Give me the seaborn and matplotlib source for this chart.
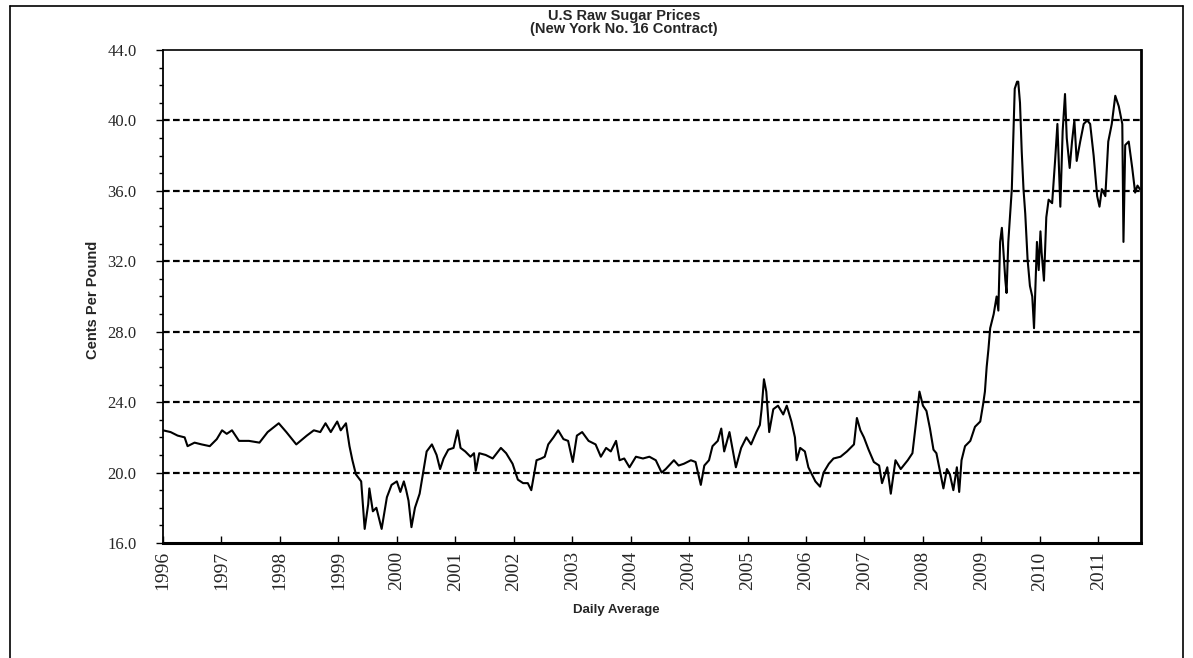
import pandas as pd
import seaborn as sns
import matplotlib.pyplot as plt
from matplotlib.lines import Line2D
from matplotlib.ticker import MultipleLocator, FormatStrFormatter

sns.set_style("white")
plt.rcParams["font.family"] = ["Liberation Sans", "DejaVu Sans"]

# values; period = position along the axis in tick units
period = [
    0.00, 0.13, 0.25, 0.37, 0.42, 0.54, 0.66, 0.80, 0.92, 1.01, 1.09, 1.18,
    1.30, 1.47, 1.65, 1.79, 1.98, 2.11, 2.28, 2.46, 2.58, 2.69, 2.78, 2.87,
    2.98, 3.04, 3.13, 3.19, 3.24, 3.30, 3.39, 3.45, 3.51, 3.53, 3.59, 3.65,
    3.74, 3.83, 3.91, 4.00, 4.06, 4.12, 4.16, 4.20, 4.25, 4.31, 4.39, 4.45,
    4.51, 4.60, 4.68, 4.74, 4.80, 4.88, 4.97, 5.04, 5.09, 5.17, 5.26, 5.32,
    5.35, 5.41, 5.52, 5.64, 5.78, 5.87, 5.98, 6.07, 6.16, 6.24, 6.30, 6.39,
    6.47, 6.53, 6.59, 6.68, 6.76, 6.85, 6.93, 7.01, 7.08, 7.17, 7.28, 7.40,
    7.49, 7.58, 7.66, 7.75, 7.81, 7.89, 7.98, 8.09, 8.21, 8.32, 8.43, 8.53,
    8.60, 8.74, 8.82, 8.91, 9.03, 9.11, 9.20, 9.26, 9.34, 9.40, 9.49, 9.55,
    9.60, 9.69, 9.75, 9.80, 9.89, 9.98, 10.06, 10.15, 10.21, 10.24, 10.28, 10.32,
    10.37, 10.44, 10.52, 10.61, 10.67, 10.75, 10.81, 10.84, 10.90, 10.98, 11.04, 11.10,
    11.16, 11.24, 11.30, 11.39, 11.47, 11.59, 11.70, 11.82, 11.87, 11.93, 11.99, 12.07,
    12.16, 12.25, 12.30, 12.39, 12.45, 12.53, 12.62, 12.74, 12.82, 12.88, 12.94, 13.00,
    13.06, 13.12, 13.18, 13.23, 13.29, 13.35, 13.41, 13.46, 13.52, 13.58, 13.62, 13.66,
    13.72, 13.81, 13.89, 13.98, 14.03, 14.06, 14.09, 14.12, 14.15, 14.21, 14.26, 14.29,
    14.32, 14.35, 14.41, 14.43, 14.46, 14.52, 14.57, 14.61, 14.63, 14.66, 14.69, 14.72,
    14.75, 14.79, 14.83, 14.87, 14.90, 14.95, 14.98, 15.01, 15.03, 15.07, 15.11, 15.15,
    15.21, 15.26, 15.30, 15.35, 15.39, 15.43, 15.46, 15.51, 15.55, 15.59, 15.63, 15.69,
    15.75, 15.81, 15.86, 15.92, 15.98, 16.02, 16.06, 16.12, 16.17, 16.23, 16.29, 16.35,
    16.41, 16.43, 16.46, 16.52, 16.58, 16.63, 16.67, 16.71,
]
cents = [
    22.4, 22.3, 22.1, 22.0, 21.5, 21.7, 21.6, 21.5, 21.9, 22.4, 22.2, 22.4,
    21.8, 21.8, 21.7, 22.3, 22.8, 22.3, 21.6, 22.1, 22.4, 22.3, 22.8, 22.3,
    22.9, 22.4, 22.8, 21.5, 20.7, 19.9, 19.5, 16.8, 18.2, 19.1, 17.8, 18.0,
    16.8, 18.6, 19.3, 19.5, 18.9, 19.5, 19.0, 18.4, 16.9, 18.0, 18.8, 20.0,
    21.2, 21.6, 21.0, 20.2, 20.8, 21.3, 21.4, 22.4, 21.4, 21.2, 20.9, 21.1,
    20.1, 21.1, 21.0, 20.8, 21.4, 21.1, 20.5, 19.6, 19.4, 19.4, 19.0, 20.7,
    20.8, 20.9, 21.6, 22.0, 22.4, 21.9, 21.8, 20.6, 22.1, 22.3, 21.8, 21.6,
    20.9, 21.4, 21.2, 21.8, 20.7, 20.8, 20.3, 20.9, 20.8, 20.9, 20.7, 20.0,
    20.2, 20.7, 20.4, 20.5, 20.7, 20.6, 19.3, 20.4, 20.7, 21.5, 21.8, 22.5,
    21.2, 22.3, 21.2, 20.3, 21.4, 22.0, 21.6, 22.3, 22.7, 23.6, 25.3, 24.6,
    22.3, 23.6, 23.8, 23.3, 23.8, 22.9, 22.0, 20.7, 21.4, 21.2, 20.3, 19.9,
    19.5, 19.2, 20.0, 20.5, 20.8, 20.9, 21.2, 21.6, 23.1, 22.4, 22.0, 21.3,
    20.6, 20.4, 19.4, 20.3, 18.8, 20.7, 20.2, 20.7, 21.1, 22.8, 24.6, 23.8,
    23.5, 22.5, 21.3, 21.1, 20.1, 19.1, 20.2, 19.9, 19.0, 20.3, 18.9, 20.7,
    21.5, 21.8, 22.6, 22.9, 23.9, 24.6, 26.0, 27.0, 28.2, 29.0, 30.0, 29.2,
    33.1, 33.9, 30.9, 30.2, 33.1, 36.1, 41.8, 42.2, 42.2, 41.0, 38.2, 36.1,
    34.7, 32.1, 30.6, 30.0, 28.2, 33.1, 31.5, 33.7, 32.5, 30.9, 34.5, 35.5,
    35.3, 37.7, 39.8, 35.1, 39.4, 41.5, 39.0, 37.3, 38.8, 40.0, 37.7, 38.8,
    39.8, 40.0, 39.8, 38.0, 35.7, 35.1, 36.1, 35.7, 38.8, 39.8, 41.4, 40.8,
    39.8, 33.1, 38.6, 38.8, 37.3, 35.9, 36.3, 36.1,
]
tick_labels = [
    "1996", "1997", "1998", "1999", "2000", "2001", "2002", "2003", "2004",
    "2004", "2005", "2006", "2007", "2008", "2009", "2010", "2011",
]
grid_levels = [20, 24, 28, 32, 36, 40]

df = pd.DataFrame({"period": period, "cents": cents})

fig = plt.figure(figsize=(11.93, 6.58), dpi=100)
ax = fig.add_axes([163 / 1193, 1 - 543 / 658, 978 / 1193, 493 / 658])

for level in grid_levels:
    ax.axhline(level, color="black", linewidth=1.6, linestyle=(0, (3, 1.5)), zorder=1)

sns.lineplot(data=df, x="period", y="cents", color="black", linewidth=1.5,
             errorbar=None, ax=ax, zorder=3)

ax.set_xlim(0, 16.73)
ax.set_ylim(16, 44)
ax.set_xticks(range(len(tick_labels)))
ax.set_xticklabels(tick_labels, rotation=90)
ax.yaxis.set_major_locator(MultipleLocator(4))
ax.yaxis.set_minor_locator(MultipleLocator(1))
ax.yaxis.set_major_formatter(FormatStrFormatter("%.1f"))

ax.tick_params(axis="x", which="major", bottom=True, direction="in", length=5,
               width=1, color="black", labelsize=14, pad=6,
               labelfontfamily="Liberation Serif")
ax.tick_params(axis="y", which="major", left=True, direction="out", length=5,
               width=1, color="black", labelsize=12, pad=14,
               labelfontfamily="Liberation Serif")
ax.tick_params(axis="y", which="minor", left=True, direction="out", length=3,
               width=1, color="black")

for side, lw in (("left", 1.3), ("top", 1.2), ("right", 2.0), ("bottom", 2.2)):
    ax.spines[side].set_visible(True)
    ax.spines[side].set_color("black")
    ax.spines[side].set_linewidth(lw)

ax.set_xlabel("Daily Average", fontsize=9.5, fontweight="bold")
ax.set_ylabel("Cents Per Pound", fontsize=10.5, fontweight="bold")
ax.xaxis.set_label_coords(0.464, -0.124)
ax.yaxis.set_label_coords(-0.064, 0.493)

fig.text(624 / 1193, 1 - 9 / 658, "U.S Raw Sugar Prices\n(New York No. 16 Contract)",
         ha="center", va="top", fontsize=10.5, fontweight="bold", linespacing=0.95)

# outer frame around the whole chart
for xs, ys in (([10, 10], [0, 6]), ([10, 1183], [6, 6]), ([1183, 1183], [6, 0])):
    fig.add_artist(Line2D([x / 1193 for x in xs], [1 - y / 658 if y else 0 for y in ys],
                          color="black", linewidth=1.2))

fig.savefig("out.png", dpi=100)
